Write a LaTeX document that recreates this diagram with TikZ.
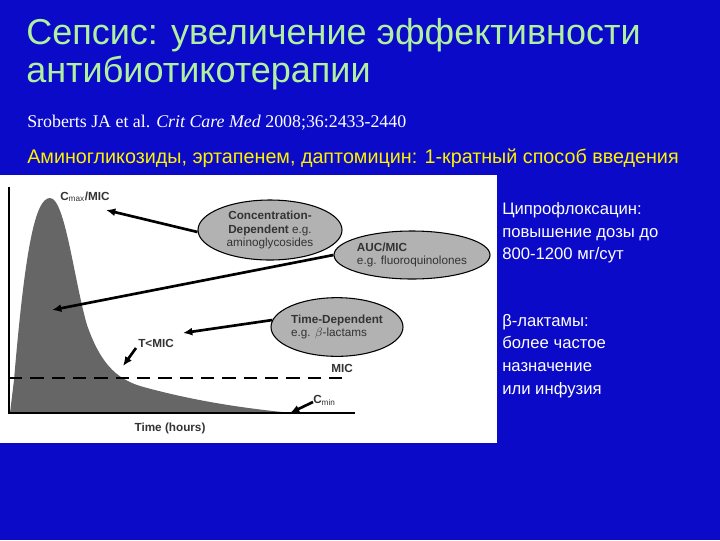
\documentclass[tikz,border=0pt]{standalone}
\usepackage{fontspec}
\usetikzlibrary{shapes.geometric,arrows.meta}
\setmainfont{Liberation Sans}
\newfontfamily\serf{Liberation Serif}
\begin{document}
\begin{tikzpicture}[x=0.75pt,y=-0.75pt,
  ell/.style={draw=black,line width=0.8pt,fill=gray!60,ellipse,inner sep=0pt},
  lbl/.style={font=\fontsize{8.8}{10}\selectfont\bfseries,text=black!80,align=left,inner sep=0pt},
  arr/.style={-{Latex[length=7pt,width=6pt]},line width=2pt,black},
  wtxt/.style={text=white,anchor=west,align=left,font=\fontsize{12.5}{17}\selectfont,inner sep=0pt}]
\useasboundingbox (0,0) rectangle (720,540);
\fill[fill={rgb,255:red,10;green,10;blue,200}] (0,0) rectangle (720,540);
\definecolor{tgreen}{RGB}{176,240,160}
\node[anchor=north west,text=tgreen,align=left,inner sep=0pt,font=\fontsize{27}{28.5}\selectfont] (title) at (26,18) {Сепсис: увеличение эффективности\\антибиотикотерапии};
\node[anchor=west,text=white,inner sep=0pt,font=\serf\fontsize{13.4}{14}\selectfont] (cite) at (27,123) {Sroberts JA et al. \textit{Crit Care Med} 2008;36:2433-2440};
\node[anchor=west,text=yellow,inner sep=0pt,font=\fontsize{14.8}{16}\selectfont] (ag) at (27,158) {Аминогликозиды, эртапенем, даптомицин: 1-кратный способ введения};
\fill[white] (0,175) rectangle (497,443);
% curve
\fill[gray!80!black] (10,413) -- (14,380) .. controls (25,250) and (35,198) .. (50,198) .. controls (65,198) and (74,280) .. (87,325) .. controls (100,362) and (115,378) .. (140,386) .. controls (190,400) and (240,408) .. (292,413) -- cycle;
\draw[line width=1pt] (9,187) -- (9,413) -- (355,413);
\draw[line width=1.6pt,dash pattern=on 10pt off 6pt] (9,378) -- (350,378);
\node[lbl] (mic) at (342,368) {MIC};
\node[lbl,anchor=west] (cmax) at (60,197) {C$_{\mathrm{max}}$/MIC};
\node[lbl,anchor=west] (tmic) at (138,343) {T<MIC};
\node[lbl,anchor=west] (cmin) at (313,400) {C$_{\mathrm{min}}$};
\node[lbl] (time) at (170,428) {Time (hours)};
\node[ell,minimum width=108pt,minimum height=45pt] (e1) at (270,230) {};
\node[lbl,align=center] at (e1) {Concentration-\\Dependent \textmd{e.g.}\\\textmd{aminoglycosides}};
\node[ell,minimum width=117pt,minimum height=36pt] (e2) at (412,255) {};
\node[lbl] at (412,255) {AUC/MIC\\\textmd{e.g. fluoroquinolones}};
\node[ell,minimum width=99pt,minimum height=44pt] (e3) at (337,327) {};
\node[lbl] at (337,327) {Time-Dependent\\\textmd{e.g. $\beta$-lactams}};
\coordinate (p1) at (106,210);
\coordinate (p2) at (52,310);
\coordinate (p3) at (183,333);
\coordinate (p4) at (123,366);
\coordinate (p5) at (290,413);
\coordinate (s4) at (136,348);
\draw[arr] (e1.west) ++(0,2) -- (p1);
\draw[arr] (e2.west) -- (p2);
\draw[arr] (e3.west) ++(2,-7) -- (p3);
\draw[arr] (s4) -- (p4);
\draw[arr] (cmin.west) ++(0,2) -- (p5);
\node[wtxt] (t1) at (502,233) {Ципрофлоксацин:\\повышение дозы до\\800-1200 мг/сут};
\node[wtxt] (t2) at (502,356) {β-лактамы:\\более частое\\назначение\\или инфузия};
\end{tikzpicture}
\end{document}
